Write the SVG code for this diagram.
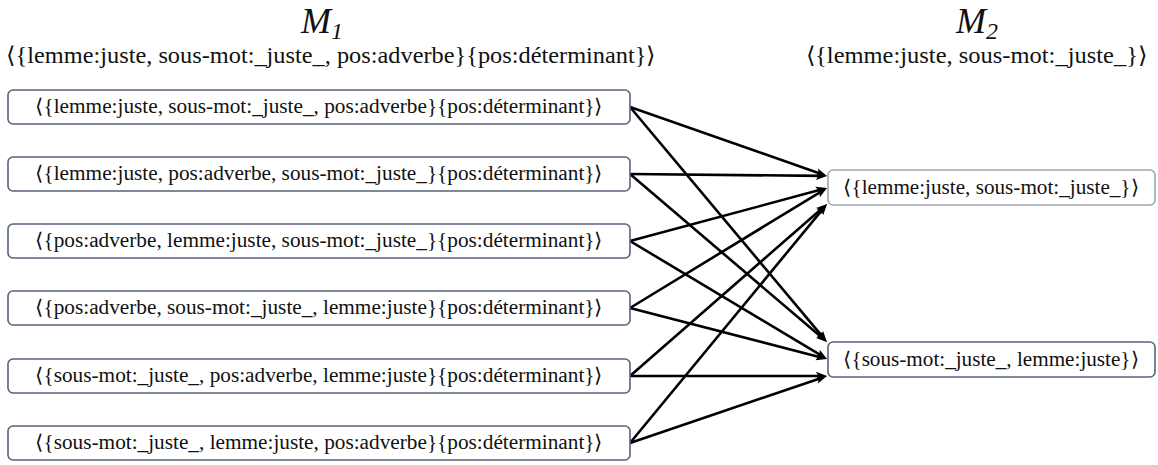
<svg xmlns="http://www.w3.org/2000/svg" width="1158" height="465" viewBox="0 0 1158 465">
<style>
  .bg { fill: #ffffff; }
  .box { fill: #ffffff; stroke: #56637a; stroke-width: 1.6; }
  .boxlight { fill: #ffffff; stroke: #a0a6b0; stroke-width: 1.6; }
  text { font-family: 'Liberation Serif', 'Times New Roman', serif; fill: #111111; text-anchor: middle; }
  .lbl { font-size: 20px; }
  .sub { font-size: 23px; }
  .title { font-size: 36px; font-style: italic; }
  .edge { fill: none; stroke: #000000; stroke-width: 2.6; }
</style>
<defs>
  <marker id="ah" markerUnits="userSpaceOnUse" markerWidth="14" markerHeight="12" refX="5" refY="5" orient="auto">
    <path d="M0,0.8 L11,5 L0,9.2 L2.2,5 Z" fill="#000000"/>
  </marker>
</defs>
<rect class="bg" x="0" y="0" width="1158" height="465"/>

<g id="header-m1">
  <text class="title" x="322" y="33">M<tspan font-size="24" dy="6">1</tspan></text>
  <text class="sub" x="331" y="63" textLength="650" lengthAdjust="spacingAndGlyphs">⟨{lemme:juste, sous-mot:_juste_, pos:adverbe}{pos:déterminant}⟩</text>
</g>
<g id="header-m2">
  <text class="title" x="977" y="33">M<tspan font-size="24" dy="6">2</tspan></text>
  <text class="sub" x="976.5" y="63" textLength="342" lengthAdjust="spacingAndGlyphs">⟨{lemme:juste, sous-mot:_juste_}⟩</text>
</g>

<g id="edges">
  <line class="edge" x1="630" y1="107" x2="821.3" y2="174.0" marker-end="url(#ah)"/>
  <line class="edge" x1="630" y1="174" x2="821" y2="175.9" marker-end="url(#ah)"/>
  <line class="edge" x1="630" y1="241" x2="821.2" y2="189.6" marker-end="url(#ah)"/>
  <line class="edge" x1="630" y1="308" x2="821.9" y2="191.1" marker-end="url(#ah)"/>
  <line class="edge" x1="630" y1="376" x2="822.5" y2="207.9" marker-end="url(#ah)"/>
  <line class="edge" x1="630" y1="443" x2="823.2" y2="208.6" marker-end="url(#ah)"/>
  <line class="edge" x1="630" y1="107" x2="823.1" y2="337.4" marker-end="url(#ah)"/>
  <line class="edge" x1="630" y1="174" x2="822.4" y2="338.1" marker-end="url(#ah)"/>
  <line class="edge" x1="630" y1="241" x2="821.9" y2="355.9" marker-end="url(#ah)"/>
  <line class="edge" x1="630" y1="308" x2="821.2" y2="357.5" marker-end="url(#ah)"/>
  <line class="edge" x1="630" y1="376" x2="821" y2="376" marker-end="url(#ah)"/>
  <line class="edge" x1="630" y1="443" x2="821.3" y2="377.9" marker-end="url(#ah)"/>
</g>

<g id="n1">
  <rect class="box" x="8" y="90" width="622" height="34" rx="5"/>
  <text class="lbl" x="319" y="113" textLength="568" lengthAdjust="spacingAndGlyphs">⟨{lemme:juste, sous-mot:_juste_, pos:adverbe}{pos:déterminant}⟩</text>
</g>
<g id="n2">
  <rect class="box" x="8" y="157" width="622" height="34" rx="5"/>
  <text class="lbl" x="319" y="180" textLength="568" lengthAdjust="spacingAndGlyphs">⟨{lemme:juste, pos:adverbe, sous-mot:_juste_}{pos:déterminant}⟩</text>
</g>
<g id="n3">
  <rect class="box" x="8" y="224" width="622" height="34" rx="5"/>
  <text class="lbl" x="319" y="247" textLength="568" lengthAdjust="spacingAndGlyphs">⟨{pos:adverbe, lemme:juste, sous-mot:_juste_}{pos:déterminant}⟩</text>
</g>
<g id="n4">
  <rect class="box" x="8" y="291" width="622" height="34" rx="5"/>
  <text class="lbl" x="319" y="314" textLength="568" lengthAdjust="spacingAndGlyphs">⟨{pos:adverbe, sous-mot:_juste_, lemme:juste}{pos:déterminant}⟩</text>
</g>
<g id="n5">
  <rect class="box" x="8" y="359" width="622" height="34" rx="5"/>
  <text class="lbl" x="319" y="382" textLength="568" lengthAdjust="spacingAndGlyphs">⟨{sous-mot:_juste_, pos:adverbe, lemme:juste}{pos:déterminant}⟩</text>
</g>
<g id="n6">
  <rect class="box" x="8" y="426" width="622" height="34" rx="5"/>
  <text class="lbl" x="319" y="449" textLength="568" lengthAdjust="spacingAndGlyphs">⟨{sous-mot:_juste_, lemme:juste, pos:adverbe}{pos:déterminant}⟩</text>
</g>

<g id="nA">
  <rect class="boxlight" x="828" y="170" width="327" height="35" rx="5"/>
  <text class="lbl" x="991" y="194" textLength="296" lengthAdjust="spacingAndGlyphs">⟨{lemme:juste, sous-mot:_juste_}⟩</text>
</g>
<g id="nB">
  <rect class="box" x="828" y="342" width="327" height="35" rx="5"/>
  <text class="lbl" x="991" y="366" textLength="296" lengthAdjust="spacingAndGlyphs">⟨{sous-mot:_juste_, lemme:juste}⟩</text>
</g>
</svg>
